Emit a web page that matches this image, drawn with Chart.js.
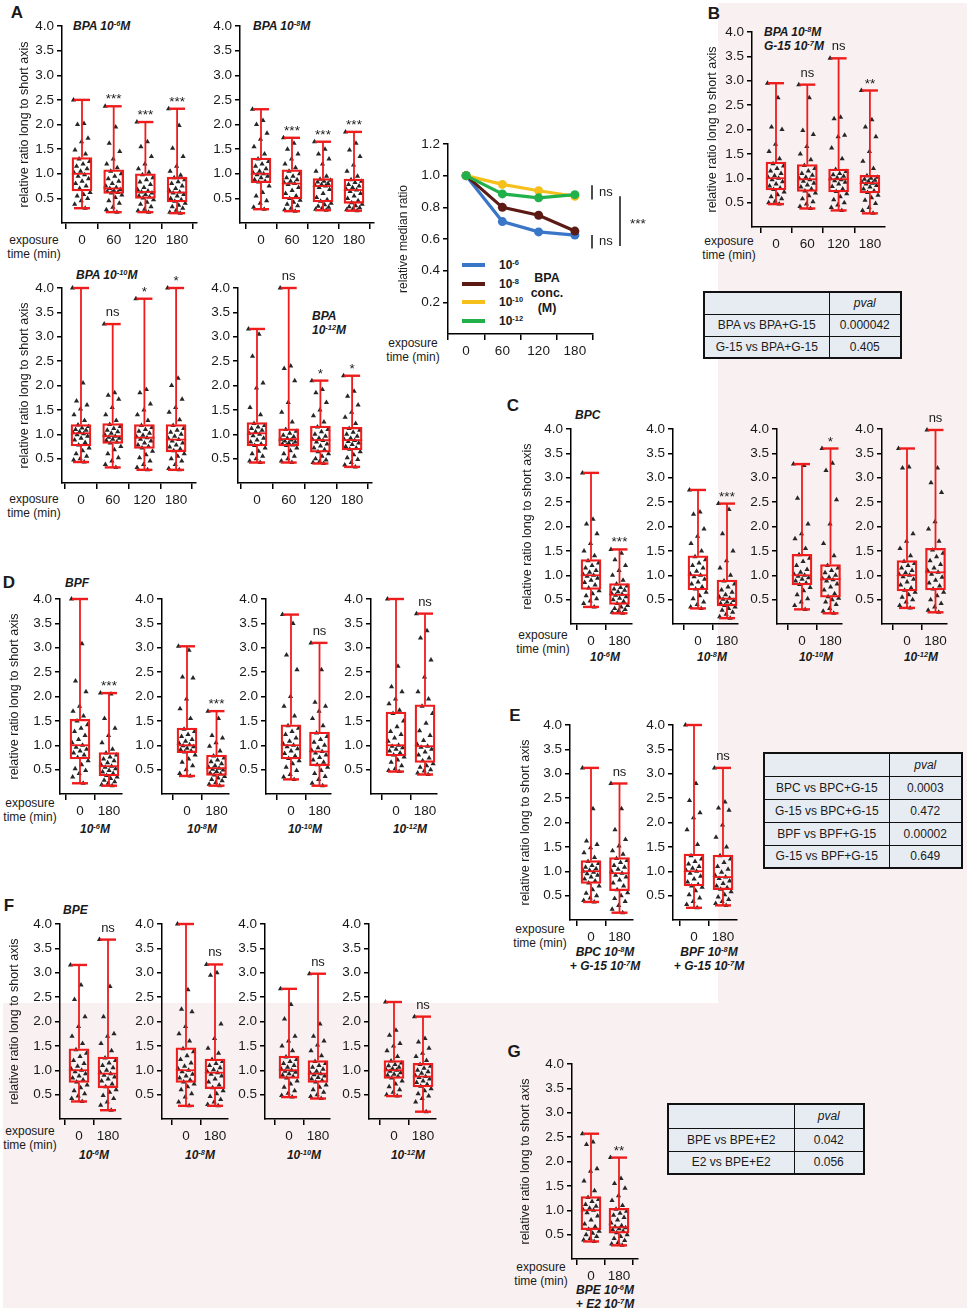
<!DOCTYPE html>
<html><head><meta charset="utf-8">
<script src="https://cdn.jsdelivr.net/npm/chart.js@4.4.0/dist/chart.umd.min.js"></script>
<style>
body{margin:0;width:967px;height:1312px;position:relative;background:#fff;font-family:"Liberation Sans",Arial,sans-serif;overflow:hidden;color:#1a1a1a}
.pink{position:absolute;background:#f9f1f1}
canvas{position:absolute}
.t{position:absolute;white-space:nowrap;line-height:1;font-size:12px}
.c{transform:translate(-50%,-50%);text-align:center}
.l{transform:translateY(-50%)}
.bi{font-weight:bold;font-style:italic}
.L{font-weight:bold;font-size:17px}
.ex{line-height:14px;font-size:12px}
sup{font-size:0.62em;vertical-align:0.55em;line-height:0}
table.pt{position:absolute;border-collapse:collapse;border:2px solid #111;font-size:12px;table-layout:fixed}
table.pt td{border:1.5px solid #111;background:#e7ecf3;text-align:center;padding:0}
.sw{position:absolute;height:4px;width:23px}
</style></head><body>
<div class="pink" style="left:718px;top:3px;width:249px;height:1000px"></div>
<div class="pink" style="left:3px;top:1003px;width:964px;height:305px"></div>

<!-- panel letters -->
<div class="t c L" style="left:17px;top:12px">A</div>
<div class="t c L" style="left:714px;top:13px">B</div>
<div class="t c L" style="left:513px;top:405px">C</div>
<div class="t c L" style="left:9px;top:582px">D</div>
<div class="t c L" style="left:515px;top:715px">E</div>
<div class="t c L" style="left:9px;top:905px">F</div>
<div class="t c L" style="left:514px;top:1051px">G</div>

<!-- titles -->
<div class="t l bi" style="left:73px;top:26px">BPA 10<sup>-6</sup>M</div>
<div class="t l bi" style="left:253px;top:26px">BPA 10<sup>-8</sup>M</div>
<div class="t l bi" style="left:76px;top:275px">BPA 10<sup>-10</sup>M</div>
<div class="t l bi" style="left:312px;top:316px">BPA</div>
<div class="t l bi" style="left:312px;top:330px">10<sup>-12</sup>M</div>
<div class="t l bi" style="left:764px;top:32px">BPA 10<sup>-8</sup>M</div>
<div class="t l bi" style="left:764px;top:46px">G-15 10<sup>-7</sup>M</div>
<div class="t l bi" style="left:575px;top:415px">BPC</div>
<div class="t l bi" style="left:65px;top:583px">BPF</div>
<div class="t l bi" style="left:63px;top:910px">BPE</div>

<!-- concentration labels -->
<div class="t c bi" style="left:605px;top:657px">10<sup>-6</sup>M</div>
<div class="t c bi" style="left:712px;top:657px">10<sup>-8</sup>M</div>
<div class="t c bi" style="left:816px;top:657px">10<sup>-10</sup>M</div>
<div class="t c bi" style="left:921px;top:657px">10<sup>-12</sup>M</div>
<div class="t c bi" style="left:95px;top:829px">10<sup>-6</sup>M</div>
<div class="t c bi" style="left:202px;top:829px">10<sup>-8</sup>M</div>
<div class="t c bi" style="left:305px;top:829px">10<sup>-10</sup>M</div>
<div class="t c bi" style="left:410px;top:829px">10<sup>-12</sup>M</div>
<div class="t c bi" style="left:605px;top:959px;line-height:14px">BPC 10<sup>-8</sup>M<br>+ G-15 10<sup>-7</sup>M</div>
<div class="t c bi" style="left:709px;top:959px;line-height:14px">BPF 10<sup>-8</sup>M<br>+ G-15 10<sup>-7</sup>M</div>
<div class="t c bi" style="left:94px;top:1155px">10<sup>-6</sup>M</div>
<div class="t c bi" style="left:200px;top:1155px">10<sup>-8</sup>M</div>
<div class="t c bi" style="left:304px;top:1155px">10<sup>-10</sup>M</div>
<div class="t c bi" style="left:408px;top:1155px">10<sup>-12</sup>M</div>
<div class="t c bi" style="left:605px;top:1297px;line-height:14px">BPE 10<sup>-6</sup>M<br>+ E2 10<sup>-7</sup>M</div>

<!-- exposure labels -->
<div class="t c ex" style="left:34px;top:247px">exposure<br>time (min)</div>
<div class="t c ex" style="left:34px;top:506px">exposure<br>time (min)</div>
<div class="t c ex" style="left:729px;top:248px">exposure<br>time (min)</div>
<div class="t c ex" style="left:413px;top:350px">exposure<br>time (min)</div>
<div class="t c ex" style="left:543px;top:642px">exposure<br>time (min)</div>
<div class="t c ex" style="left:30px;top:810px">exposure<br>time (min)</div>
<div class="t c ex" style="left:540px;top:936px">exposure<br>time (min)</div>
<div class="t c ex" style="left:30px;top:1138px">exposure<br>time (min)</div>
<div class="t c ex" style="left:541px;top:1274px">exposure<br>time (min)</div>

<!-- tables -->
<table class="pt" style="left:703px;top:291px;width:199px">
<colgroup><col style="width:125px"><col></colgroup>
<tr style="height:22px"><td></td><td><i>pval</i></td></tr>
<tr style="height:22px"><td>BPA vs BPA+G-15</td><td>0.000042</td></tr>
<tr style="height:22px"><td>G-15 vs BPA+G-15</td><td>0.405</td></tr>
</table>
<table class="pt" style="left:763px;top:752px;width:200px">
<colgroup><col style="width:125px"><col></colgroup>
<tr style="height:23px"><td></td><td><i>pval</i></td></tr>
<tr style="height:23px"><td>BPC vs BPC+G-15</td><td>0.0003</td></tr>
<tr style="height:23px"><td>G-15 vs BPC+G-15</td><td>0.472</td></tr>
<tr style="height:23px"><td>BPF vs BPF+G-15</td><td>0.00002</td></tr>
<tr style="height:23px"><td>G-15 vs BPF+G-15</td><td>0.649</td></tr>
</table>
<table class="pt" style="left:667px;top:1103px;width:198px">
<colgroup><col style="width:126px"><col></colgroup>
<tr style="height:24px"><td></td><td><i>pval</i></td></tr>
<tr style="height:23px"><td>BPE vs BPE+E2</td><td>0.042</td></tr>
<tr style="height:23px"><td>E2 vs BPE+E2</td><td>0.056</td></tr>
</table>

<!-- line chart legend -->
<div class="sw" style="left:462px;top:263px;background:#3a76c8"></div>
<div class="sw" style="left:462px;top:282px;background:#5b1b14"></div>
<div class="sw" style="left:462px;top:300px;background:#f6c01c"></div>
<div class="sw" style="left:462px;top:319px;background:#22b04b"></div>
<div class="t l" style="left:499px;top:265px;font-weight:bold">10<sup>-6</sup></div>
<div class="t l" style="left:499px;top:284px;font-weight:bold">10<sup>-8</sup></div>
<div class="t l" style="left:499px;top:302px;font-weight:bold">10<sup>-10</sup></div>
<div class="t l" style="left:499px;top:321px;font-weight:bold">10<sup>-12</sup></div>
<div class="t c" style="left:547px;top:293px;font-weight:bold;font-size:12.5px;line-height:15px">BPA<br>conc.<br>(M)</div>

<script>
// ---------------- DATA ----------------
const yTicks = [0.5, 1.0, 1.5, 2.0, 2.5, 3.0, 3.5, 4.0];
const time4 = ['0', '60', '120', '180'];
const time2 = ['0', '180'];

// box stats: [min, q1, median, q3, max]
const bpa6Box = [[0.30,0.65,1.00,1.33,2.50],[0.22,0.60,0.70,1.08,2.37],[0.22,0.50,0.63,1.00,2.05],[0.20,0.43,0.62,0.93,2.32]];
const bpa6Sig = ['', '***', '***', '***'];
const bpa6Pts = [
 [2.50,2.02,2.00,1.72,1.65,1.48,1.40,1.30,1.25,1.20,1.15,1.10,1.05,1.02,0.98,0.95,0.90,0.85,0.80,0.75,0.70,0.62,0.58,0.55,0.50,0.45,0.38,0.30],
 [2.37,1.95,1.62,1.45,1.30,1.20,1.12,1.05,1.00,0.95,0.90,0.85,0.80,0.75,0.72,0.70,0.68,0.66,0.64,0.62,0.61,0.57,0.52,0.45,0.40,0.32,0.27,0.22],
 [2.05,1.65,1.55,1.35,1.20,1.10,1.03,0.98,0.92,0.88,0.83,0.78,0.72,0.68,0.65,0.63,0.61,0.58,0.55,0.53,0.51,0.47,0.42,0.38,0.33,0.28,0.25,0.22],
 [2.32,1.98,1.52,1.35,1.15,1.05,0.97,0.92,0.88,0.84,0.80,0.75,0.70,0.66,0.63,0.61,0.58,0.55,0.50,0.47,0.44,0.40,0.36,0.33,0.30,0.26,0.22,0.20]];

const bpa8Box = [[0.28,0.82,1.00,1.32,2.31],[0.24,0.49,0.80,1.08,1.73],[0.26,0.43,0.75,0.90,1.65],[0.25,0.40,0.67,0.89,1.85]];
const bpa8Sig = ['', '***', '***', '***'];
const bpa8Pts = [
 [2.31,2.08,2.00,1.82,1.70,1.55,1.40,1.30,1.25,1.20,1.15,1.10,1.05,1.02,1.00,0.98,0.95,0.92,0.88,0.85,0.83,0.75,0.62,0.55,0.45,0.40,0.32,0.28],
 [1.73,1.62,1.50,1.40,1.30,1.20,1.12,1.05,1.00,0.95,0.92,0.88,0.85,0.82,0.80,0.78,0.72,0.66,0.60,0.55,0.50,0.46,0.42,0.38,0.35,0.30,0.27,0.24],
 [1.65,1.50,1.40,1.30,1.20,1.05,0.95,0.89,0.87,0.85,0.83,0.80,0.78,0.76,0.75,0.72,0.68,0.60,0.52,0.47,0.44,0.40,0.37,0.34,0.32,0.30,0.28,0.26],
 [1.85,1.62,1.48,1.35,1.18,1.05,0.95,0.88,0.85,0.82,0.78,0.75,0.72,0.69,0.67,0.64,0.60,0.55,0.50,0.45,0.41,0.38,0.35,0.33,0.31,0.29,0.27,0.25]];

const bpa10Box = [[0.43,0.76,1.02,1.20,4.00],[0.32,0.81,0.96,1.22,3.26],[0.27,0.71,0.93,1.20,3.78],[0.27,0.64,0.89,1.20,4.00]];
const bpa10Sig = ['', 'ns', '*', '*'];
const bpa10Pts = [
 [4.00,2.05,1.68,1.60,1.52,1.40,1.28,1.19,1.16,1.13,1.10,1.08,1.05,1.03,1.01,0.99,0.96,0.92,0.88,0.83,0.78,0.72,0.66,0.60,0.55,0.50,0.47,0.43],
 [3.26,1.85,1.80,1.72,1.55,1.40,1.28,1.20,1.16,1.12,1.08,1.05,1.02,0.99,0.96,0.94,0.92,0.90,0.87,0.84,0.82,0.75,0.68,0.60,0.52,0.45,0.38,0.32],
 [3.78,1.92,1.85,1.62,1.50,1.40,1.28,1.18,1.14,1.10,1.06,1.02,0.98,0.95,0.93,0.90,0.86,0.82,0.78,0.75,0.72,0.65,0.58,0.52,0.45,0.38,0.32,0.27],
 [4.00,2.15,2.00,1.72,1.55,1.45,1.30,1.18,1.12,1.08,1.04,1.00,0.96,0.92,0.89,0.86,0.82,0.78,0.74,0.70,0.66,0.60,0.55,0.50,0.45,0.38,0.30,0.27]];

const bpa12Box = [[0.42,0.76,1.02,1.24,3.16],[0.42,0.76,0.90,1.11,4.00],[0.40,0.63,0.88,1.17,2.10],[0.33,0.68,0.88,1.14,2.20]];
const bpa12Sig = ['', 'ns', '*', '*'];
const bpa12Pts = [
 [3.16,3.05,2.60,2.05,1.95,1.55,1.40,1.22,1.18,1.15,1.12,1.08,1.05,1.02,1.00,0.97,0.92,0.88,0.84,0.80,0.77,0.72,0.65,0.60,0.55,0.50,0.45,0.42],
 [4.00,2.40,2.35,2.10,1.65,1.45,1.25,1.10,1.06,1.02,0.98,0.95,0.92,0.90,0.88,0.86,0.84,0.82,0.80,0.78,0.77,0.72,0.66,0.60,0.55,0.50,0.45,0.42],
 [2.10,1.92,1.85,1.65,1.50,1.38,1.25,1.15,1.10,1.05,1.00,0.96,0.92,0.89,0.87,0.84,0.80,0.76,0.72,0.68,0.64,0.60,0.55,0.50,0.47,0.44,0.42,0.40],
 [2.20,1.88,1.78,1.60,1.45,1.35,1.22,1.12,1.08,1.04,1.00,0.96,0.92,0.89,0.87,0.85,0.82,0.79,0.75,0.72,0.69,0.64,0.58,0.52,0.48,0.42,0.37,0.33]];

const bpaG15Box = [[0.47,0.76,1.00,1.33,2.95],[0.38,0.73,0.98,1.28,2.92],[0.34,0.72,0.98,1.19,3.46],[0.28,0.70,0.90,1.06,2.80]];
const bpaG15Sig = ['', 'ns', 'ns', '**'];
const bpaG15Pts = [
 [2.95,2.65,2.05,2.00,1.70,1.55,1.40,1.30,1.25,1.20,1.15,1.10,1.05,1.02,1.00,0.97,0.93,0.88,0.84,0.80,0.77,0.72,0.66,0.62,0.58,0.53,0.50,0.47],
 [2.92,2.65,1.98,1.90,1.65,1.50,1.38,1.26,1.20,1.15,1.10,1.06,1.02,0.99,0.97,0.94,0.90,0.86,0.82,0.78,0.74,0.70,0.64,0.58,0.52,0.47,0.42,0.38],
 [3.46,2.25,2.22,1.88,1.85,1.62,1.40,1.18,1.14,1.10,1.07,1.04,1.01,0.99,0.97,0.95,0.92,0.88,0.83,0.78,0.73,0.68,0.62,0.56,0.50,0.45,0.40,0.34],
 [2.80,2.20,2.05,1.85,1.55,1.35,1.20,1.05,1.02,1.00,0.98,0.96,0.94,0.92,0.90,0.88,0.85,0.82,0.78,0.74,0.71,0.65,0.60,0.55,0.48,0.40,0.34,0.28]];

const bpc6Box = [[0.35,0.71,1.00,1.32,3.10],[0.22,0.40,0.60,0.83,1.53]];
const bpc6Sig = ['', '***'];
const bpc6Pts = [
 [3.10,2.15,2.05,1.85,1.65,1.50,1.40,1.30,1.25,1.20,1.15,1.10,1.06,1.02,1.00,0.98,0.94,0.90,0.85,0.80,0.74,0.68,0.62,0.58,0.52,0.47,0.42,0.35],
 [1.53,1.45,1.32,1.20,1.10,1.00,0.90,0.82,0.78,0.75,0.72,0.69,0.66,0.63,0.61,0.59,0.56,0.53,0.50,0.46,0.42,0.38,0.35,0.32,0.30,0.27,0.24,0.22]];
const bpc8Box = [[0.32,0.70,1.00,1.40,2.75],[0.12,0.37,0.52,0.90,2.47]];
const bpc8Sig = ['', '***'];
const bpc8Pts = [
 [2.75,2.30,2.25,1.95,1.80,1.65,1.50,1.38,1.32,1.25,1.20,1.15,1.08,1.03,1.00,0.97,0.92,0.86,0.82,0.76,0.72,0.65,0.58,0.52,0.45,0.40,0.35,0.32],
 [2.47,2.35,1.85,1.50,1.30,1.15,1.00,0.88,0.82,0.76,0.70,0.65,0.60,0.56,0.53,0.51,0.48,0.45,0.42,0.40,0.38,0.35,0.32,0.28,0.24,0.20,0.15,0.12]];
const bpc10Box = [[0.30,0.80,1.00,1.43,3.28],[0.22,0.55,0.92,1.22,3.60]];
const bpc10Sig = ['', '*'];
const bpc10Pts = [
 [3.28,3.25,2.58,2.05,1.85,1.75,1.55,1.42,1.35,1.28,1.20,1.12,1.06,1.02,1.00,0.98,0.95,0.92,0.88,0.84,0.81,0.75,0.68,0.60,0.52,0.45,0.38,0.30],
 [3.60,3.30,3.15,2.55,2.05,1.65,1.40,1.20,1.15,1.10,1.05,1.00,0.96,0.93,0.91,0.88,0.82,0.76,0.70,0.62,0.56,0.53,0.50,0.45,0.40,0.32,0.26,0.22]];
const bpc12Box = [[0.33,0.68,1.00,1.30,3.60],[0.24,0.70,1.06,1.55,3.98]];
const bpc12Sig = ['', 'ns'];
const bpc12Pts = [
 [3.60,3.22,3.20,1.85,1.70,1.55,1.40,1.28,1.24,1.20,1.15,1.10,1.05,1.02,1.00,0.97,0.92,0.86,0.80,0.74,0.69,0.65,0.60,0.55,0.50,0.45,0.38,0.33],
 [3.98,3.20,2.90,2.70,2.10,1.95,1.70,1.52,1.45,1.38,1.30,1.22,1.15,1.10,1.06,1.02,0.96,0.90,0.84,0.78,0.72,0.65,0.58,0.50,0.42,0.35,0.28,0.24]];

const bpf6Box = [[0.22,0.72,1.00,1.53,4.00],[0.17,0.37,0.57,0.85,2.07]];
const bpf6Sig = ['', '***'];
const bpf6Pts = [
 [4.00,3.08,2.32,2.10,1.80,1.70,1.60,1.50,1.42,1.35,1.28,1.20,1.12,1.05,1.00,0.96,0.92,0.88,0.84,0.80,0.75,0.68,0.60,0.52,0.48,0.42,0.35,0.22],
 [2.07,2.05,1.55,1.35,1.20,1.05,0.92,0.84,0.80,0.76,0.72,0.68,0.64,0.60,0.57,0.55,0.52,0.48,0.45,0.42,0.38,0.35,0.32,0.28,0.25,0.22,0.19,0.17]];
const bpf8Box = [[0.37,0.85,1.00,1.35,3.03],[0.17,0.38,0.53,0.80,1.70]];
const bpf8Sig = ['', '***'];
const bpf8Pts = [
 [3.03,2.95,2.40,2.38,1.95,1.75,1.55,1.33,1.28,1.22,1.18,1.12,1.08,1.04,1.01,0.99,0.97,0.94,0.91,0.88,0.86,0.80,0.72,0.65,0.58,0.50,0.42,0.37],
 [1.70,1.55,1.20,1.15,1.05,0.98,0.88,0.78,0.74,0.70,0.66,0.62,0.58,0.55,0.53,0.51,0.49,0.46,0.43,0.41,0.39,0.36,0.33,0.30,0.27,0.23,0.20,0.17]];
const bpf10Box = [[0.30,0.72,1.00,1.42,3.68],[0.17,0.58,0.87,1.27,3.10]];
const bpf10Sig = ['', 'ns'];
const bpf10Pts = [
 [3.68,3.50,2.85,2.55,2.00,1.80,1.60,1.40,1.35,1.28,1.22,1.15,1.08,1.03,1.00,0.97,0.93,0.88,0.83,0.78,0.73,0.68,0.62,0.55,0.48,0.40,0.35,0.30],
 [3.10,2.55,1.88,1.80,1.70,1.55,1.40,1.25,1.18,1.12,1.06,1.00,0.95,0.90,0.87,0.84,0.80,0.75,0.70,0.65,0.60,0.55,0.48,0.42,0.36,0.30,0.22,0.17]];
const bpf12Box = [[0.46,0.78,1.00,1.68,4.00],[0.40,0.65,0.98,1.83,3.70]];
const bpf12Sig = ['', 'ns'];
const bpf12Pts = [
 [4.00,2.62,2.20,2.10,1.95,1.85,1.72,1.65,1.50,1.38,1.28,1.22,1.15,1.08,1.00,0.98,0.95,0.92,0.88,0.84,0.80,0.76,0.70,0.65,0.58,0.52,0.48,0.46],
 [3.70,3.35,3.20,2.75,2.40,2.10,1.95,1.80,1.65,1.45,1.30,1.20,1.10,1.02,0.98,0.96,0.92,0.86,0.80,0.74,0.68,0.62,0.58,0.55,0.50,0.47,0.43,0.40]];

const bpcG15Box = [[0.37,0.75,1.00,1.22,3.12],[0.15,0.60,0.96,1.28,2.80]];
const bpcG15Sig = ['', 'ns'];
const bpcG15Pts = [
 [3.12,2.28,1.62,1.55,1.48,1.38,1.28,1.20,1.16,1.12,1.08,1.05,1.02,1.00,0.98,0.95,0.92,0.88,0.84,0.80,0.76,0.70,0.62,0.55,0.50,0.45,0.40,0.37],
 [2.80,2.28,1.85,1.65,1.52,1.42,1.35,1.26,1.22,1.18,1.12,1.08,1.04,1.00,0.96,0.92,0.88,0.82,0.76,0.70,0.62,0.56,0.50,0.44,0.38,0.30,0.22,0.15]];
const bpfG15Box = [[0.25,0.70,1.00,1.35,4.00],[0.30,0.62,0.88,1.33,3.12]];
const bpfG15Sig = ['', 'ns'];
const bpfG15Pts = [
 [4.00,2.80,2.45,2.20,2.10,1.85,1.55,1.32,1.25,1.20,1.15,1.10,1.06,1.02,1.00,0.96,0.90,0.84,0.78,0.73,0.70,0.67,0.60,0.52,0.45,0.38,0.32,0.25],
 [3.12,2.42,2.30,2.25,1.95,1.70,1.50,1.32,1.25,1.18,1.10,1.04,0.98,0.92,0.88,0.85,0.80,0.75,0.70,0.66,0.63,0.58,0.52,0.47,0.42,0.38,0.34,0.30]];

const bpe6Box = [[0.36,0.75,1.00,1.44,3.16],[0.18,0.64,0.93,1.27,3.68]];
const bpe6Sig = ['', 'ns'];
const bpe6Pts = [
 [3.16,2.75,2.45,2.10,1.90,1.70,1.55,1.42,1.35,1.28,1.20,1.14,1.08,1.03,1.00,0.97,0.93,0.88,0.84,0.80,0.76,0.70,0.64,0.58,0.52,0.47,0.42,0.36],
 [3.68,2.72,2.10,1.75,1.70,1.55,1.40,1.25,1.20,1.15,1.10,1.05,1.00,0.96,0.93,0.90,0.86,0.82,0.78,0.72,0.66,0.60,0.55,0.48,0.42,0.35,0.28,0.18]];
const bpe8Box = [[0.27,0.75,1.00,1.46,4.00],[0.27,0.62,0.95,1.23,3.17]];
const bpe8Sig = ['', 'ns'];
const bpe8Pts = [
 [4.00,2.65,2.25,2.20,1.90,1.75,1.60,1.44,1.38,1.30,1.22,1.15,1.08,1.03,1.00,0.97,0.92,0.88,0.84,0.80,0.76,0.72,0.66,0.60,0.52,0.45,0.35,0.27],
 [3.17,3.00,2.95,1.95,1.65,1.45,1.35,1.22,1.18,1.14,1.10,1.05,1.01,0.98,0.95,0.92,0.88,0.82,0.76,0.70,0.64,0.58,0.52,0.46,0.40,0.35,0.30,0.27]];
const bpe10Box = [[0.45,0.83,1.00,1.29,2.67],[0.42,0.75,0.93,1.20,2.98]];
const bpe10Sig = ['', 'ns'];
const bpe10Pts = [
 [2.67,2.35,2.05,1.70,1.60,1.50,1.40,1.27,1.22,1.18,1.14,1.10,1.06,1.03,1.00,0.98,0.96,0.93,0.90,0.87,0.84,0.78,0.72,0.65,0.58,0.53,0.48,0.45],
 [2.98,1.95,1.70,1.60,1.52,1.40,1.30,1.18,1.14,1.10,1.06,1.02,0.98,0.95,0.93,0.91,0.88,0.85,0.82,0.79,0.76,0.70,0.65,0.60,0.55,0.50,0.46,0.42]];
const bpe12Box = [[0.47,0.83,1.00,1.20,2.40],[0.15,0.66,0.87,1.14,2.10]];
const bpe12Sig = ['', 'ns'];
const bpe12Pts = [
 [2.40,1.82,1.72,1.55,1.50,1.40,1.28,1.19,1.15,1.12,1.09,1.06,1.03,1.01,1.00,0.98,0.95,0.92,0.90,0.87,0.84,0.78,0.72,0.66,0.60,0.55,0.50,0.47],
 [2.10,1.65,1.58,1.45,1.35,1.28,1.20,1.12,1.08,1.04,1.00,0.97,0.94,0.90,0.87,0.85,0.82,0.78,0.75,0.71,0.67,0.62,0.58,0.52,0.47,0.42,0.35,0.15]];

const bpeE2Box = [[0.36,0.60,1.00,1.28,2.57],[0.28,0.53,0.65,1.04,2.08]];
const bpeE2Sig = ['', '**'];
const bpeE2Pts = [
 [2.57,2.40,2.35,1.85,1.80,1.60,1.40,1.26,1.22,1.18,1.12,1.08,1.04,1.01,1.00,0.95,0.88,0.80,0.72,0.66,0.61,0.57,0.53,0.50,0.46,0.42,0.39,0.36],
 [2.08,1.65,1.55,1.45,1.30,1.20,1.10,1.02,0.98,0.94,0.90,0.85,0.80,0.74,0.68,0.66,0.64,0.62,0.60,0.57,0.54,0.50,0.46,0.42,0.38,0.34,0.31,0.28]];

// relative median ratio line chart
const lineTimes = ['0', '60', '120', '180'];
const medTicks = [0.2, 0.4, 0.6, 0.8, 1.0, 1.2];
const med6 = [1.00, 0.71, 0.645, 0.625];
const med8 = [1.00, 0.80, 0.75, 0.65];
const med10 = [1.00, 0.945, 0.905, 0.87];
const med12 = [1.00, 0.885, 0.86, 0.88];
const nsBrackets = [[0.94, 0.85, 'ns'], [0.625, 0.54, 'ns']];
const sigBracket = [0.87, 0.556, '***'];

// ---------------- RENDER ----------------
Chart.defaults.font.family = '"Liberation Sans", Arial, sans-serif';
Chart.defaults.color = '#1a1a1a';
const RED = '#ee1c1c';
const INK = '#1a1a1a';

function addCanvas(l, t, w, h) {
  const c = document.createElement('canvas');
  c.width = w; c.height = h;
  c.style.left = l + 'px'; c.style.top = t + 'px';
  c.style.width = w + 'px'; c.style.height = h + 'px';
  document.body.appendChild(c);
  return c;
}

const axisCommon = {
  grid: {drawOnChartArea: false, drawTicks: true, tickLength: 6, color: '#000', lineWidth: 1.5},
  border: {display: true, color: '#000', width: 1.5}
};

function boxPanel(box, pts, sig, labels, g) {
  const PADT = 24, XH = 30, PADR = 12, TF = 12.5;
  const cl = Math.round(g.tx != null ? g.tx - TF * 0.6 : g.ax - 42);
  const yw = g.ax - cl;
  const cw = Math.round(yw + (g.xe - g.ax) + PADR);
  const ct = g.top - PADT;
  const ch = PADT + (g.bot - g.top) + XH;
  const cv = addCanvas(cl, ct, cw, ch);
  const xmin = -(g.c0 - g.ax) / g.sp, xmax = (g.xe - g.c0) / g.sp;
  const jw = 17 / g.sp;

  const boxData = box.map((b, i) => ({x: i, y: [b[1], b[3]]}));
  const medData = box.map((b, i) => ({x: i, y: b[2]}));
  const capData = box.flatMap((b, i) => [{x: i, y: b[0]}, {x: i, y: b[4]}]);
  const whisk = box.flatMap((b, i) => [{x: i, y: b[0]}, {x: i, y: b[1]}, {x: i, y: null}, {x: i, y: b[3]}, {x: i, y: b[4]}, {x: i, y: null}]);
  const ptData = pts.flatMap((arr, i) => arr.map((v, k) => ({x: i + (((k * 0.618034) % 1) - 0.5) * jw, y: v})));

  new Chart(cv, {
    type: 'bar',
    data: {datasets: [
      {type: 'bar', data: boxData, order: 1, backgroundColor: 'rgba(0,0,0,0)', borderColor: RED, borderWidth: 1.6, borderSkipped: false, barThickness: 20},
      {type: 'scatter', data: medData, order: 1, pointStyle: 'line', pointRadius: 10, pointBorderColor: RED, pointBorderWidth: 1.8, clip: false},
      {type: 'scatter', data: capData, order: 1, pointStyle: 'line', pointRadius: 8, pointBorderColor: RED, pointBorderWidth: 2.4, clip: false},
      {type: 'line', data: whisk, order: 2, borderColor: RED, borderWidth: 1.8, pointRadius: 0, spanGaps: false, clip: false},
      {type: 'scatter', data: ptData, order: 3, pointStyle: 'triangle', pointRadius: 3, pointBackgroundColor: '#262626', pointBorderWidth: 0, clip: false}
    ]},
    options: {
      responsive: false, animation: false, events: [],
      layout: {padding: {top: PADT, right: PADR, left: 0, bottom: 0}},
      plugins: {legend: {display: false}, tooltip: {enabled: false}},
      scales: {
        x: Object.assign({}, axisCommon, {
          type: 'linear', min: xmin, max: xmax, offset: false,
          afterBuildTicks: s => { s.ticks = labels.map((l, i) => ({value: i})); },
          afterFit: s => { s.height = XH; },
          ticks: {callback: v => labels[Math.round(v)], font: {size: 13.5}, color: INK, padding: 3, maxRotation: 0, autoSkip: false}
        }),
        y: Object.assign({}, axisCommon, {
          type: 'linear', min: 0, max: 4.0,
          afterBuildTicks: s => { s.ticks = yTicks.map(v => ({value: v})); },
          afterFit: s => { s.width = yw; },
          ticks: {callback: v => v.toFixed(1), font: {size: 13.5}, color: INK, padding: 3, autoSkip: false},
          grid: Object.assign({}, axisCommon.grid, {tickLength: 5}),
          title: {display: g.tx != null, text: 'relative ratio long to short axis', font: {size: TF}, color: INK, padding: 0}
        })
      }
    },
    plugins: [{
      id: 'sig',
      afterDatasetsDraw(chart) {
        const ctx = chart.ctx, xs = chart.scales.x, ys = chart.scales.y;
        ctx.save();
        ctx.fillStyle = INK; ctx.textAlign = 'center'; ctx.textBaseline = 'alphabetic';
        sig.forEach((s, i) => {
          if (!s) return;
          const x = xs.getPixelForValue(i), y = ys.getPixelForValue(box[i][4]);
          ctx.font = (s === 'ns' ? '13px' : '13.5px') + ' "Liberation Sans", Arial, sans-serif';
          ctx.fillText(s, x, s === 'ns' ? y - 8 : y - 3);
        });
        ctx.restore();
      }
    }]
  });
}

// layout geometry (pixels) for each panel
boxPanel(bpa6Box, bpa6Pts, bpa6Sig, time4, {ax: 62, top: 26, bot: 223, c0: 82, sp: 31.7, xe: 197, tx: 24});
boxPanel(bpa8Box, bpa8Pts, bpa8Sig, time4, {ax: 240, top: 26, bot: 223, c0: 261, sp: 31, xe: 374});
boxPanel(bpa10Box, bpa10Pts, bpa10Sig, time4, {ax: 62, top: 288, bot: 483, c0: 81, sp: 31.7, xe: 196, tx: 24});
boxPanel(bpa12Box, bpa12Pts, bpa12Sig, time4, {ax: 238, top: 288, bot: 483, c0: 257, sp: 31.7, xe: 372});
boxPanel(bpaG15Box, bpaG15Pts, bpaG15Sig, time4, {ax: 752, top: 32, bot: 227, c0: 776, sp: 31.3, xe: 885, tx: 712});
boxPanel(bpc6Box, bpc6Pts, bpc6Sig, time2, {ax: 571, top: 429, bot: 624, c0: 591, sp: 28.5, xe: 632, tx: 527});
boxPanel(bpc8Box, bpc8Pts, bpc8Sig, time2, {ax: 673, top: 429, bot: 624, c0: 698, sp: 29, xe: 738});
boxPanel(bpc10Box, bpc10Pts, bpc10Sig, time2, {ax: 777, top: 429, bot: 624, c0: 802, sp: 28.5, xe: 842});
boxPanel(bpc12Box, bpc12Pts, bpc12Sig, time2, {ax: 882, top: 429, bot: 624, c0: 907, sp: 28.5, xe: 947});
boxPanel(bpf6Box, bpf6Pts, bpf6Sig, time2, {ax: 60, top: 599, bot: 794, c0: 80, sp: 29, xe: 122, tx: 14});
boxPanel(bpf8Box, bpf8Pts, bpf8Sig, time2, {ax: 162, top: 599, bot: 794, c0: 187, sp: 29.5, xe: 229});
boxPanel(bpf10Box, bpf10Pts, bpf10Sig, time2, {ax: 266, top: 599, bot: 794, c0: 291, sp: 28.5, xe: 331});
boxPanel(bpf12Box, bpf12Pts, bpf12Sig, time2, {ax: 371, top: 599, bot: 794, c0: 396, sp: 29, xe: 437});
boxPanel(bpcG15Box, bpcG15Pts, bpcG15Sig, time2, {ax: 570, top: 725, bot: 920, c0: 591, sp: 28.5, xe: 633, tx: 525});
boxPanel(bpfG15Box, bpfG15Pts, bpfG15Sig, time2, {ax: 673, top: 725, bot: 920, c0: 694, sp: 29, xe: 737});
boxPanel(bpe6Box, bpe6Pts, bpe6Sig, time2, {ax: 60, top: 924, bot: 1119, c0: 79, sp: 29, xe: 121, tx: 14});
boxPanel(bpe8Box, bpe8Pts, bpe8Sig, time2, {ax: 162, top: 924, bot: 1119, c0: 186, sp: 29, xe: 228});
boxPanel(bpe10Box, bpe10Pts, bpe10Sig, time2, {ax: 265, top: 924, bot: 1119, c0: 289, sp: 29, xe: 330});
boxPanel(bpe12Box, bpe12Pts, bpe12Sig, time2, {ax: 369, top: 924, bot: 1119, c0: 394, sp: 29, xe: 436});
boxPanel(bpeE2Box, bpeE2Pts, bpeE2Sig, time2, {ax: 572, top: 1064, bot: 1259, c0: 591, sp: 28, xe: 638, tx: 525});

// line chart
(function () {
  const ax = 448, top = 144, bot = 334, xe = 593, tx = 403;
  const PADT = 15, XH = 30, PADR = 57;
  const cl = Math.round(tx - 12 * 0.6);
  const yw = ax - cl;
  const cw = yw + (xe - ax) + PADR;
  const cv = addCanvas(cl, top - PADT, cw, PADT + (bot - top) + XH);
  const ds = (data, col) => ({data, borderColor: col, backgroundColor: col, pointBackgroundColor: col, borderWidth: 3.2, pointRadius: 4.5, pointBorderWidth: 0, tension: 0, clip: false});
  new Chart(cv, {
    type: 'line',
    data: {labels: lineTimes, datasets: [ds(med12, '#22b04b'), ds(med10, '#f6c01c'), ds(med8, '#5b1b14'), ds(med6, '#3a76c8')]},
    options: {
      responsive: false, animation: false, events: [],
      layout: {padding: {top: PADT, right: PADR, left: 0, bottom: 0}},
      plugins: {legend: {display: false}, tooltip: {enabled: false}},
      scales: {
        x: Object.assign({}, axisCommon, {
          type: 'category', offset: true,
          grid: Object.assign({}, axisCommon.grid, {offset: true}),
          afterFit: s => { s.height = XH; },
          ticks: {font: {size: 13.5}, color: INK, padding: 3, maxRotation: 0, autoSkip: false}
        }),
        y: Object.assign({}, axisCommon, {
          type: 'linear', min: 0, max: 1.2,
          afterBuildTicks: s => { s.ticks = medTicks.map(v => ({value: v})); },
          afterFit: s => { s.width = yw; },
          grid: Object.assign({}, axisCommon.grid, {tickLength: 5}),
          ticks: {callback: v => v.toFixed(1), font: {size: 13.5}, color: INK, padding: 3},
          title: {display: true, text: 'relative median ratio', font: {size: 12}, color: INK, padding: 0}
        })
      }
    },
    plugins: [{
      id: 'brackets',
      afterDatasetsDraw(chart) {
        const ctx = chart.ctx, ys = chart.scales.y, r = chart.chartArea.right;
        ctx.save();
        ctx.strokeStyle = '#111'; ctx.lineWidth = 1.5; ctx.fillStyle = INK;
        ctx.font = '13px "Liberation Sans", Arial, sans-serif'; ctx.textBaseline = 'middle'; ctx.textAlign = 'left';
        nsBrackets.forEach(b => {
          const y1 = ys.getPixelForValue(b[0]), y2 = ys.getPixelForValue(b[1]);
          ctx.beginPath(); ctx.moveTo(r - 1, y1); ctx.lineTo(r - 1, y2); ctx.stroke();
          ctx.fillText(b[2], r + 6, (y1 + y2) / 2);
        });
        const y1 = ys.getPixelForValue(sigBracket[0]), y2 = ys.getPixelForValue(sigBracket[1]);
        ctx.beginPath(); ctx.moveTo(r + 27, y1); ctx.lineTo(r + 27, y2); ctx.stroke();
        ctx.font = '13.5px "Liberation Sans", Arial, sans-serif';
        ctx.fillText(sigBracket[2], r + 37, (y1 + y2) / 2 + 3);
        ctx.restore();
      }
    }]
  });
})();
</script>
</body></html>
